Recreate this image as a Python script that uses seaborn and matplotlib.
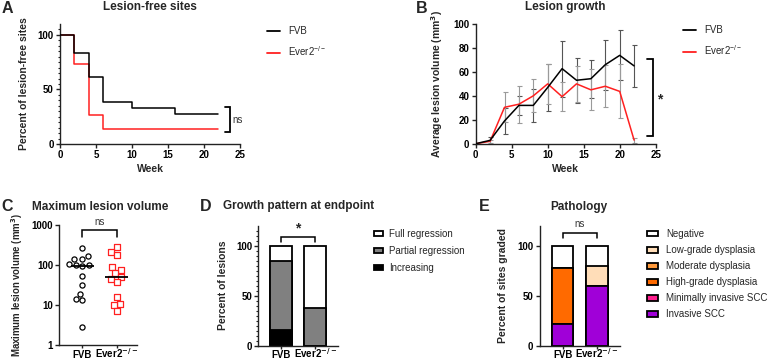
import numpy as np
import pandas as pd
import seaborn as sns
import matplotlib.pyplot as plt
from matplotlib.patches import Patch
from matplotlib.lines import Line2D
from matplotlib.ticker import FixedLocator

sns.set_theme(style="ticks")
plt.rcParams['font.family'] = ['Liberation Sans', 'DejaVu Sans']
plt.rcParams['mathtext.default'] = 'regular'
plt.rcParams['axes.linewidth'] = 1.0
plt.rcParams['axes.edgecolor'] = '#222222'

# ---- data ----
# A: lesion-free sites (Kaplan-Meier style steps)
km_weeks_fvb = [0, 2, 4, 6, 10, 16, 22]
km_fvb = [100, 83.3, 61.1, 38.9, 33.3, 27.8, 27.8]
km_weeks_ever = [0, 2, 4, 6, 22]
km_ever = [100, 73.3, 26.7, 13.3, 13.3]

# B: lesion growth, mean +/- sem
weeks = [0, 2, 4, 6, 8, 10, 12, 14, 16, 18, 20, 22]
fvb_mean = [0, 2.8, 19, 32, 32, 47, 62.7, 53, 54.3, 66, 73.8, 65]
fvb_sem = [0, 3, 11, 8, 13.5, 20, 23.5, 18.8, 16, 21, 21, 17.5]
ever_mean = [0, 2, 30.4, 33, 40, 50, 39.3, 50, 45, 48, 43.7, 3]
ever_sem = [0, 1.5, 12.5, 15.5, 13.8, 16.5, 12.3, 15, 17, 17.6, 22.5, 2]

# C: maximum lesion volume
fvb_max = [266, 171, 139, 139, 105, 100, 98, 95, 53, 31, 18.8, 13.8, 13.3, 2.75]
ever_max = [276, 207, 174, 87, 75, 62, 51, 44, 38, 16, 10.4, 10, 7.2]

# D: growth pattern at endpoint
groups = ['FVB', 'Ever2']
growth_cats = ['Full regression', 'Partial regression', 'Increasing']
growth_vals = {'FVB': [15.4, 69.2, 15.4], 'Ever2': [62.5, 37.5, 0]}
growth_colors = ['white', '#808080', 'black']

# E: pathology
path_cats = ['Negative', 'Low-grade dysplasia', 'Moderate dysplasia',
             'High-grade dysplasia', 'Minimally invasive SCC', 'Invasive SCC']
path_vals = {'FVB': [22.2, 0, 0, 55.6, 0, 22.2], 'Ever2': [20, 20, 0, 0, 0, 60]}
path_colors = ['white', '#FFDDB8', '#FF9A3C', '#FF6A00', '#FF1F8E', '#A000D8']

ever_lbl = 'Ever2$^{-/-}$'
ever_lbl_b = r'Ever2$^{\mathbf{-/-}}$'

W, H = 768, 361
fig = plt.figure(figsize=(W / 100, H / 100), dpi=100)


def add_ax(x0, y0, x1, y1):
    return fig.add_axes([x0 / W, 1 - y1 / H, (x1 - x0) / W, (y1 - y0) / H])


def ftext(x, y, s, **kw):
    fig.text(x / W, 1 - y / H, s, **kw)


def style(ax):
    sns.despine(ax=ax)
    ax.tick_params(length=3, width=1.0, pad=1.5, labelsize=7, colors='#222222',
                   labelcolor='black')
    ax.tick_params(which='minor', length=1.8, width=0.8, colors='#222222')
    for lab in ax.get_xticklabels() + ax.get_yticklabels():
        lab.set_fontweight('bold')


def group_ticks(ax):
    # category labels sit on a common baseline just above the figure edge
    ax.set_xticks([0, 1])
    ax.set_xticklabels(['FVB', ever_lbl_b])
    ax.set_xlabel('')
    ax.tick_params(axis='x', length=2.5, pad=6.6)
    for lab in ax.get_xticklabels():
        lab.set_fontweight('bold')
        lab.set_va('baseline')


def vbracket(ax, x, y0, y1, tip, lw=1.3):
    ax.plot([x - tip, x, x, x - tip], [y0, y0, y1, y1], color='black', lw=lw,
            clip_on=False, solid_joinstyle='miter')


def hbracket(ax, x0, x1, y, ylow, lw=1.1):
    ax.plot([x0, x0, x1, x1], [ylow, y, y, ylow], color='black', lw=lw,
            clip_on=False, solid_joinstyle='miter')


# ---------- A ----------
axA = add_ax(60, 24, 240, 144)
sns.lineplot(x=km_weeks_fvb, y=km_fvb, drawstyle='steps-post', color='black',
             lw=1.1, ax=axA, zorder=3)
sns.lineplot(x=km_weeks_ever, y=km_ever, drawstyle='steps-post', color='#FF2020',
             lw=1.1, ax=axA, zorder=2)
axA.set_xlim(0, 25)
axA.set_ylim(0, 110)
axA.set_yticks([0, 50, 100])
axA.yaxis.set_minor_locator(FixedLocator([v for v in range(5, 110, 5) if v % 50]))
axA.set_xticks([0, 5, 10, 15, 20, 25])
axA.set_xlabel('Week', fontsize=7.5, fontweight='bold', va='center')
axA.set_ylabel('Percent of lesion-free sites', fontsize=7.5, fontweight='bold')
axA.xaxis.set_label_coords(0.5, -0.205)
axA.yaxis.set_label_coords(-0.172, 0.5)
style(axA)
vbracket(axA, 23.6, km_ever[-1] - 2.6, km_fvb[-1] + 5.7, 0.65)
axA.text(24.0, (km_ever[-1] + km_fvb[-1]) / 2 + 1.5, 'ns', fontsize=7, va='center',
         color='#333333')
fig.legend([Line2D([], [], color='black', lw=1.3), Line2D([], [], color='#FF2020', lw=1.3)],
           ['FVB', ever_lbl], loc='upper left', bbox_to_anchor=(267 / W, 1 - 26 / H),
           frameon=False, borderpad=0, borderaxespad=0, handlelength=1.35,
           handletextpad=0.8, labelspacing=0.85, fontsize=7)

# ---------- B ----------
axB = add_ax(475.7, 24, 655.7, 143.7)
axB.errorbar(weeks, fvb_mean, yerr=fvb_sem, fmt='none', ecolor='#555555',
             elinewidth=0.8, capsize=1.8, capthick=0.8, zorder=1)
axB.errorbar(weeks, ever_mean, yerr=ever_sem, fmt='none', ecolor='#9a9a9a',
             elinewidth=0.8, capsize=1.8, capthick=0.8, zorder=1)
sns.lineplot(x=weeks, y=fvb_mean, color='black', lw=1.1, ax=axB, zorder=3)
sns.lineplot(x=weeks, y=ever_mean, color='#FF2020', lw=1.1, ax=axB, zorder=2)
axB.set_xlim(0, 25)
axB.set_ylim(0, 100)
axB.set_xticks([0, 5, 10, 15, 20, 25])
axB.set_yticks([0, 20, 40, 60, 80, 100])
axB.set_xlabel('Week', fontsize=7.5, fontweight='bold', va='center')
axB.set_ylabel(r'Average lesion volume (mm$^{\mathbf{3}}$)', fontsize=7.5, fontweight='bold')
axB.xaxis.set_label_coords(0.5, -0.21)
axB.yaxis.set_label_coords(-0.172, 0.5)
style(axB)
vbracket(axB, 24.6, 6.4, 70.5, 0.85)
axB.text(25.6, 37.3, '*', fontsize=10, fontweight='bold', ha='center', va='center')
fig.legend([Line2D([], [], color='black', lw=1.3), Line2D([], [], color='#FF2020', lw=1.3)],
           ['FVB', ever_lbl], loc='upper left', bbox_to_anchor=(683 / W, 1 - 25 / H),
           frameon=False, borderpad=0, borderaxespad=0, handlelength=1.35,
           handletextpad=0.8, labelspacing=0.85, fontsize=7)

# ---------- C ----------
axC = add_ax(59.3, 225, 137, 345)
dfC = pd.DataFrame({'group': ['FVB'] * len(fvb_max) + ['Ever2'] * len(ever_max),
                    'vol': fvb_max + ever_max})
sns.swarmplot(data=dfC[dfC.group == 'FVB'], x='group', y='vol', order=groups,
              marker='o', size=3.7, color='black', log_scale=True, ax=axC)
sns.swarmplot(data=dfC[dfC.group == 'Ever2'], x='group', y='vol', order=groups,
              marker='s', size=3.7, color='#FF2020', log_scale=True, ax=axC)
for coll in axC.collections:
    fc = coll.get_facecolor()
    if len(fc):
        coll.set_edgecolor(fc)
        coll.set_facecolor('white')
        coll.set_linewidth(0.9)
for i, g in enumerate(groups):
    med = np.median(dfC.loc[dfC.group == g, 'vol'])
    axC.hlines(med, i - 0.33, i + 0.33, color='black', lw=1.3, zorder=4)
axC.set_yscale('log')
axC.set_ylim(1, 1000)
axC.set_xlim(-0.67, 1.59)
axC.set_yticks([1, 10, 100, 1000])
axC.set_yticklabels(['1', '10', '100', '1000'])
axC.yaxis.set_minor_locator(FixedLocator([]))
axC.set_ylabel(r'Maximum lesion volume (mm$^{\mathbf{3}}$)', fontsize=6.9, fontweight='bold')
axC.yaxis.set_label_coords(-0.44, 0.5)
style(axC)
group_ticks(axC)
hbracket(axC, 0, 1, 750, 510)
axC.text(0.5, 1170, 'ns', fontsize=7, ha='center', va='center', color='#333333')

# ---------- D ----------
axD = add_ax(258.3, 225.7, 338, 345.7)
for k, (cat, col) in enumerate(zip(growth_cats, growth_colors)):
    tops = [sum(growth_vals[g][k:]) for g in groups]
    sns.barplot(x=groups, y=tops, order=groups, color=col, saturation=1, width=0.63,
                edgecolor='black', linewidth=1.3, ax=axD)
axD.set_ylim(0, 120)
axD.set_xlim(-0.654, 1.662)
axD.set_yticks([0, 50, 100])
axD.yaxis.set_minor_locator(FixedLocator([v for v in range(5, 120, 5) if v % 50]))
axD.set_ylabel('Percent of lesions', fontsize=7.5, fontweight='bold')
axD.yaxis.set_label_coords(-0.374, 0.5)
style(axD)
group_ticks(axD)
hbracket(axD, 0, 1, 108.4, 103.4)
axD.text(0.5, 117, '*', fontsize=10, fontweight='bold', ha='center', va='center')
axD.legend([Patch(facecolor=c, edgecolor='black', lw=1.3) for c in growth_colors],
           growth_cats, loc='upper left', bbox_to_anchor=((374 - 258.3) / 79.7, (345.7 - 229) / 120),
           frameon=False, borderpad=0, borderaxespad=0, handlelength=0.95, handleheight=0.55,
           handletextpad=0.6, labelspacing=0.72, fontsize=7)

# ---------- E ----------
axE = add_ax(539.7, 225.7, 620, 345.7)
for k, (cat, col) in enumerate(zip(path_cats, path_colors)):
    tops = [sum(path_vals[g][k:]) for g in groups]
    sns.barplot(x=groups, y=tops, order=groups, color=col, saturation=1, width=0.63,
                edgecolor='black', linewidth=1.3, ax=axE)
axE.set_ylim(0, 120)
axE.set_xlim(-0.665, 1.67)
axE.set_yticks([0, 50, 100])
axE.set_ylabel('Percent of sites graded', fontsize=7.5, fontweight='bold')
axE.yaxis.set_label_coords(-0.39, 0.5)
style(axE)
group_ticks(axE)
hbracket(axE, 0, 1, 113, 107.5)
axE.text(0.5, 121.5, 'ns', fontsize=7, ha='center', va='center', color='#333333')
axE.legend([Patch(facecolor=c, edgecolor='black', lw=1.3) for c in path_colors],
           path_cats, loc='upper left', bbox_to_anchor=((647 - 539.7) / 80.3, (345.7 - 229) / 120),
           frameon=False, borderpad=0, borderaxespad=0, handlelength=1.15, handleheight=0.55,
           handletextpad=0.8, labelspacing=0.62, fontsize=7)

# titles and panel letters
tkw = dict(fontsize=8.5, fontweight='bold', ha='center', va='center')
ftext(150, 7, 'Lesion-free sites', **tkw)
ftext(565.7, 7, 'Lesion growth', **tkw)
ftext(100, 206.5, 'Maximum lesion volume', **tkw)
ftext(298.5, 206.5, 'Growth pattern at endpoint', **tkw)
ftext(578.7, 207, 'Pathology', **tkw)
lkw = dict(fontsize=11.5, fontweight='bold', ha='left', va='center')
ftext(1.5, 8.5, 'A', **lkw)
ftext(415.5, 8.5, 'B', **lkw)
ftext(1.5, 206.5, 'C', **lkw)
ftext(199.5, 206.5, 'D', **lkw)
ftext(478.5, 206.5, 'E', **lkw)

fig.savefig('out.png', dpi=100)
